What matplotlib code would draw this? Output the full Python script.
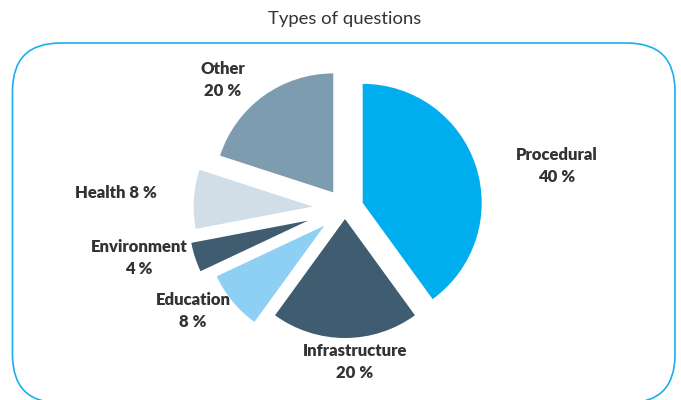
import matplotlib
matplotlib.use("Agg")
import matplotlib.pyplot as plt
from matplotlib.patches import FancyBboxPatch

# ---- data ----
categories = ["Procedural", "Infrastructure", "Education", "Environment", "Health", "Other"]
shares = [40, 20, 8, 4, 8, 20]
label_texts = ["Procedural\n40 %", "Infrastructure\n20 %", "Education\n8 %",
               "Environment\n4 %", "Health 8 %", "Other\n20 %"]
title = "Types of questions"

# ---- style ----
colors = ["#00AEEF", "#405C70", "#8ECFF4", "#405C70", "#D1DEE8", "#7E9CB0"]
explode_px = [18.6, 10.4, 26.8, 38.7, 32.4, 20.0]
label_pos = [(557, 166), (355, 362), (193, 311), (139, 258), (116, 193), (223, 80)]
W, H = 681, 400

fig = plt.figure(figsize=(W / 100, H / 100), dpi=100)
ax = fig.add_axes([0, 0, 1, 1])

ax.pie(shares, colors=colors, explode=explode_px, startangle=90, counterclock=False,
       radius=119, center=(345, H - 208.6), wedgeprops=dict(linewidth=0))

ax.set_xlim(0, W)
ax.set_ylim(0, H)
ax.set_aspect("auto")
ax.axis("off")

# rounded border
box = FancyBboxPatch((12.5, H - 403), 662.5, 360, boxstyle="round,pad=0,rounding_size=48",
                     fill=False, edgecolor="#1AAFEC", linewidth=1.2)
ax.add_patch(box)

for txt, (x, y) in zip(label_texts, label_pos):
    ax.text(x, H - y, txt, ha="center", va="center", fontsize=12, fontweight="heavy",
            color="#333333", family="Lato", linespacing=1.5)

ax.text(345, H - 19, title, ha="center", va="center", fontsize=13.3, color="#333333",
        family="Lato")

fig.savefig("out.png", dpi=100)
